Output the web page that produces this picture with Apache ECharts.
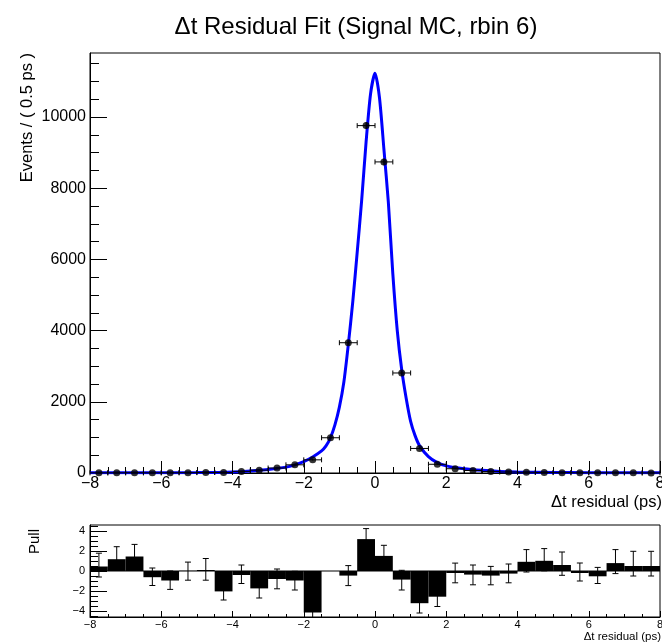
<!DOCTYPE html>
<html><head><meta charset="utf-8">
<script src="https://cdn.jsdelivr.net/npm/echarts@6/dist/echarts.min.js"></script>
<style>html,body{margin:0;padding:0;background:#fff}#c{width:662px;height:644px}</style>
</head><body><div id="c"></div><script>
// ---- data ----
const binCenters = [-7.75,-7.25,-6.75,-6.25,-5.75,-5.25,-4.75,-4.25,-3.75,-3.25,-2.75,-2.25,-1.75,-1.25,-0.75,-0.25,0.25,0.75,1.25,1.75,2.25,2.75,3.25,3.75,4.25,4.75,5.25,5.75,6.25,6.75,7.25,7.75];
const binHalfWidth = 0.25;
const counts = [5,6,8,6,7,10,14,15,45,80,140,230,370,990,3660,9760,8740,2810,690,245,120,70,40,28,20,15,10,7,5,6,4,3];
const countErr = [2,2,3,2,3,3,4,4,7,9,12,15,19,31,60,99,93,53,26,16,11,8,6,5,4,4,3,3,2,2,2,2];
const fitX = [-8,-7,-6,-5,-4.5,-4,-3.5,-3,-2.5,-2.25,-2,-1.75,-1.5,-1.375,-1.25,-1.125,-1,-0.875,-0.75,-0.625,-0.5,-0.375,-0.25,-0.125,0,0.125,0.25,0.375,0.5,0.625,0.75,0.875,1,1.125,1.25,1.5,1.75,2,2.5,3,3.5,4,5,6,7,8];
const fitY = [4,5,7,11,16,25,55,100,165,230,320,450,620,760,990,1350,1850,2550,3600,4800,6200,7650,9300,10650,11230,10550,9100,7600,5600,4000,2900,2100,1450,1050,770,460,290,200,120,75,45,30,16,9,6,4];
const pulls = [0.45,1.18,1.45,-0.62,-0.95,0.02,0.1,-2.04,-0.4,-1.74,-0.8,-0.95,-4.15,0.0,-0.46,3.19,1.51,-0.86,-3.22,-2.57,-0.2,-0.36,-0.46,-0.26,0.92,1.02,0.6,-0.2,-0.53,0.79,0.5,0.5];
const pullErrUp = [1.33,1.25,1.21,0.92,0.95,0.87,1.15,0.94,1.0,0.94,1.0,0.92,0.95,0,1.0,1.05,1.06,0.93,1.02,1.02,0.99,0.96,0.92,0.96,1.22,1.22,1.3,1.0,0.89,1.35,1.47,1.47];
const pullErrDown = [1.05,0.98,1.1,0.83,0.89,0.94,1.02,0.86,0.85,0.96,0.98,0.95,1.0,0,1.0,1.0,1.0,1.04,0.98,0.98,0.98,1.02,0.92,0.92,1.02,1.0,1.03,0.8,0.72,1.05,1.0,1.0];
const yMajor = [0,2000,4000,6000,8000,10000];
const yMinor = [500,1000,1500,2500,3000,3500,4500,5000,5500,6500,7000,7500,8500,9000,9500,10500,11000,11500];
const pullMajor = [-4,-2,0,2,4];
const pullMinor = [-4.5,-3.5,-3,-2.5,-1.5,-1,-0.5,0.5,1,1.5,2.5,3,3.5,4.5];

const FONT = "'Liberation Sans', Arial, Helvetica, sans-serif";
const minus = v => String(v).replace('-', '\u2212');
const chart = echarts.init(document.getElementById('c'));

function topErr(params, api) {
  const x = api.value(0), y = api.value(1), ex = api.value(2), ey = api.value(3);
  const l = api.coord([x - ex, y]), r = api.coord([x + ex, y]);
  const t = api.coord([x, y + ey]), b = api.coord([x, y - ey]);
  const st = {stroke: '#000', lineWidth: 1};
  return {type: 'group', children: [
    {type: 'line', shape: {x1: l[0], y1: l[1], x2: r[0], y2: r[1]}, style: st},
    {type: 'line', shape: {x1: l[0], y1: l[1] - 2.5, x2: l[0], y2: l[1] + 2.5}, style: st},
    {type: 'line', shape: {x1: r[0], y1: r[1] - 2.5, x2: r[0], y2: r[1] + 2.5}, style: st},
    {type: 'line', shape: {x1: t[0], y1: t[1], x2: b[0], y2: b[1]}, style: st}
  ]};
}
function pullBar(params, api) {
  const x = api.value(0), p = api.value(1), hw = api.value(2);
  const a = api.coord([x - hw, 0]), b = api.coord([x + hw, p]);
  return {type: 'rect', shape: {x: a[0], y: Math.min(a[1], b[1]), width: b[0] - a[0], height: Math.abs(b[1] - a[1])},
    style: {fill: '#000'}};
}
function pullErr(params, api) {
  const x = api.value(0), p = api.value(1), up = api.value(2), dn = api.value(3);
  if (up === 0 && dn === 0) return null;
  const t = api.coord([x, p + up]), b = api.coord([x, p - dn]);
  const st = {stroke: '#000', lineWidth: 1};
  return {type: 'group', children: [
    {type: 'line', shape: {x1: t[0], y1: t[1], x2: b[0], y2: b[1]}, style: st},
    {type: 'line', shape: {x1: t[0] - 3, y1: t[1], x2: t[0] + 3, y2: t[1]}, style: st},
    {type: 'line', shape: {x1: b[0] - 3, y1: b[1], x2: b[0] + 3, y2: b[1]}, style: st}
  ]};
}

const blackLine = {show: true, onZero: false, lineStyle: {color: '#000', width: 1}};
const noLine = {show: false, onZero: false};
chart.setOption({
  animation: false,
  backgroundColor: '#fff',
  textStyle: {fontFamily: FONT},
  grid: [
    {left: 90, top: 53, right: 2, height: 420, show: true, borderColor: '#000', borderWidth: 1, backgroundColor: 'transparent', containLabel: false, outerBoundsMode: 'none'},
    {left: 90, top: 525, right: 2, height: 92, show: true, borderColor: '#000', borderWidth: 1, backgroundColor: 'transparent', containLabel: false, outerBoundsMode: 'none'}
  ],
  xAxis: [
    {gridIndex: 0, type: 'value', position: 'bottom', min: -8, max: 8, interval: 2,
     axisLine: blackLine, splitLine: {show: false},
     axisTick: {show: true, inside: true, length: 12, lineStyle: {color: '#000'}},
     minorTick: {show: true, splitNumber: 4, length: 6, lineStyle: {color: '#000'}},
     axisLabel: {fontSize: 16, color: '#000', margin: 3, fontFamily: FONT, formatter: minus}},
    {gridIndex: 1, type: 'value', position: 'bottom', min: -8, max: 8, interval: 2,
     axisLine: blackLine, splitLine: {show: false},
     axisTick: {show: true, inside: true, length: 6, lineStyle: {color: '#000'}},
     minorTick: {show: true, splitNumber: 4, length: 3, lineStyle: {color: '#000'}},
     axisLabel: {fontSize: 11, color: '#000', margin: 2, fontFamily: FONT, formatter: minus}}
  ],
  yAxis: [
    {gridIndex: 0, type: 'value', position: 'left', min: 0, max: 11800,
     axisLine: blackLine, splitLine: {show: false},
     axisTick: {show: true, inside: true, length: 17, customValues: yMajor, lineStyle: {color: '#000'}},
     axisLabel: {fontSize: 16, color: '#000', margin: 4, fontFamily: FONT, customValues: yMajor, formatter: v => String(v)}},
    {gridIndex: 0, type: 'value', position: 'left', min: 0, max: 11800,
     axisLine: noLine, splitLine: {show: false},
     axisTick: {show: true, inside: true, length: 9, customValues: yMinor, lineStyle: {color: '#000'}},
     axisLabel: {show: false}},
    {gridIndex: 1, type: 'value', position: 'left', min: -4.6, max: 4.6,
     axisLine: blackLine, splitLine: {show: false},
     axisTick: {show: true, inside: true, length: 17, customValues: pullMajor, lineStyle: {color: '#000'}},
     axisLabel: {fontSize: 11, color: '#000', margin: 5, fontFamily: FONT, customValues: pullMajor, formatter: minus}},
    {gridIndex: 1, type: 'value', position: 'left', min: -4.6, max: 4.6,
     axisLine: noLine, splitLine: {show: false},
     axisTick: {show: true, inside: true, length: 8, customValues: pullMinor, lineStyle: {color: '#000'}},
     axisLabel: {show: false}}
  ],
  graphic: [
    {type: 'text', x: 356, y: 27, style: {text: '\u0394t Residual Fit (Signal MC, rbin 6)', font: '24px ' + FONT, fill: '#000', textAlign: 'center', textVerticalAlign: 'middle'}},
    {type: 'text', x: 27, y: 53, rotation: Math.PI / 2, style: {text: 'Events / ( 0.5 ps )', font: '16.5px ' + FONT, fill: '#000', textAlign: 'right', textVerticalAlign: 'middle'}},
    {type: 'text', x: 662, y: 502, style: {text: '\u0394t residual (ps)', font: '16.5px ' + FONT, fill: '#000', textAlign: 'right', textVerticalAlign: 'middle'}},
    {type: 'text', x: 35, y: 529, rotation: Math.PI / 2, style: {text: 'Pull', font: '15px ' + FONT, fill: '#000', textAlign: 'right', textVerticalAlign: 'middle'}},
    {type: 'text', x: 661, y: 637, style: {text: '\u0394t residual (ps)', font: '11.5px ' + FONT, fill: '#000', textAlign: 'right', textVerticalAlign: 'middle'}}
  ],
  series: [
    {type: 'line', xAxisIndex: 0, yAxisIndex: 0, data: fitX.map((x, i) => [x, fitY[i]]),
     smooth: 0.25, showSymbol: false, lineStyle: {color: '#0000ff', width: 3}, z: 2, silent: true},
    {type: 'custom', xAxisIndex: 0, yAxisIndex: 0, renderItem: topErr, z: 3,
     data: binCenters.map((x, i) => [x, counts[i], binHalfWidth, countErr[i]])},
    {type: 'scatter', xAxisIndex: 0, yAxisIndex: 0, data: binCenters.map((x, i) => [x, counts[i]]),
     symbol: 'circle', symbolSize: 7, itemStyle: {color: '#000'}, z: 4},
    {type: 'custom', xAxisIndex: 1, yAxisIndex: 2, renderItem: pullBar, clip: true, z: 2,
     data: binCenters.map((x, i) => [x, pulls[i], binHalfWidth])},
    {type: 'line', xAxisIndex: 1, yAxisIndex: 2, data: [[-8, 0], [8, 0]], showSymbol: false,
     lineStyle: {color: '#000', width: 1}, z: 3, silent: true},
    {type: 'custom', xAxisIndex: 1, yAxisIndex: 2, renderItem: pullErr, clip: true, z: 4,
     data: binCenters.map((x, i) => [x, pulls[i], pullErrUp[i], pullErrDown[i]])}
  ]
});
</script></body></html>
